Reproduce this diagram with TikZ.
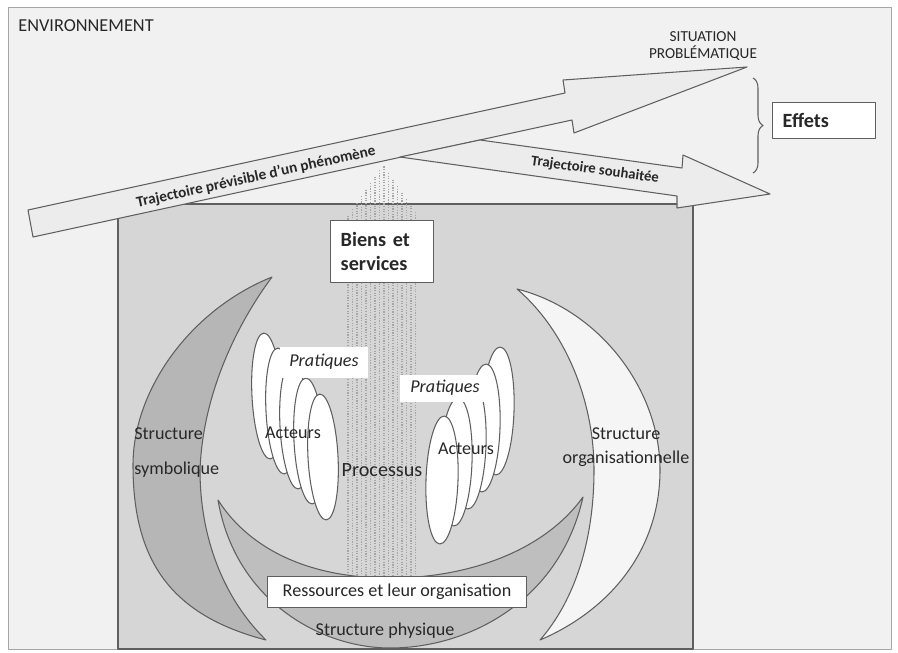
\documentclass[tikz,border=0pt]{standalone}
\usepackage{fontspec}
\setmainfont{Carlito}
\usetikzlibrary{decorations.pathreplacing}

\definecolor{fond}{RGB}{241,241,241}
\definecolor{grain}{RGB}{214,214,214}
\definecolor{trait}{RGB}{95,95,95}
\definecolor{encre}{RGB}{40,40,40}
\definecolor{fleche}{RGB}{236,236,236}
\definecolor{sombre}{RGB}{182,182,182}
\definecolor{moyen}{RGB}{190,190,190}
\definecolor{clair}{RGB}{245,245,245}

\begin{document}
\begin{tikzpicture}[x=0.02cm, y=-0.02cm, line join=round,
	contour/.style={draw=trait, line width=0.6pt},
	etiquette/.style={text=encre, inner sep=0pt, font=\fontsize{10.3}{12.4}\selectfont},
	gras/.style={text=encre, font=\fontsize{8.7}{10}\selectfont\bfseries},
	cadre/.style={draw=trait, fill=white, line width=0.8pt, text=encre},
	acteur/.style={contour, fill=white},
	flux/.style={draw=gray!70, dash pattern=on 0.7pt off 0.8pt, line width=0.8pt}]
	\useasboundingbox (0,0) rectangle (898,652);
		%environnement
			\draw [draw=gray!70, fill=fond] (8,7) rectangle (891,649);
			\node [etiquette, anchor=west, font=\fontsize{10.4}{12.4}\selectfont] (env) at (18,26) {ENVIRONNEMENT};
			\draw [contour, fill=grain] (118,204) rectangle (693,649);
		%structures
			% left side
			\draw [contour, fill=sombre] (272,277) .. controls (190,310) and (133,390) .. (133,465) .. controls (133,560) and (170,615) .. (266,640) .. controls (225,600) and (200,540) .. (200,470) .. controls (203,390) and (240,320) .. (272,277) -- cycle;
			% right side
			\draw [contour, fill=clair] (517,289) .. controls (600,310) and (660,390) .. (660,470) .. controls (660,550) and (610,610) .. (540,640) .. controls (575,600) and (594,540) .. (594,470) .. controls (594,400) and (565,330) .. (517,289) -- cycle;
			% bottom
			\draw [contour, fill=moyen] (218,500) .. controls (235,600) and (320,648) .. (390,648) .. controls (470,648) and (560,600) .. (583,497) .. controls (545,550) and (470,578) .. (390,578) .. controls (310,578) and (250,550) .. (218,500) -- cycle;
		%acteurs
			\foreach \cx/\cy in {267/396, 281/411, 295/426, 309/441, 323/457}
				\draw [acteur, rotate around={3:(\cx,\cy)}] (\cx,\cy) ellipse (15 and 63);
			\foreach \cx/\cy in {498/411, 484/428, 470/445, 456/462, 442/480}
				\draw [acteur, rotate around={-2:(\cx,\cy)}] (\cx,\cy) ellipse (16 and 64);
		%processus
			\foreach \x in {348,352.5,...,419} {
				\pgfmathsetmacro\haut{165+1.45*abs(\x-383)}
				\draw [flux] (\x,\haut) -- (\x,577);
			}
		%labels
			\node [etiquette, fill=white, minimum width=1.76cm, minimum height=0.62cm, font=\fontsize{10.3}{12.4}\selectfont\itshape] (pratA) at (324,362) {Pratiques};
			\node [etiquette, fill=white, minimum width=1.8cm, minimum height=0.54cm, font=\fontsize{10.3}{12.4}\selectfont\itshape] (pratB) at (445,388) {Pratiques};
			\node [etiquette] (actA) at (293,433) {Acteurs};
			\node [etiquette] (actB) at (466,449) {Acteurs};
			\node [etiquette, font=\fontsize{11.5}{13}\selectfont] (proc) at (382,470) {Processus};
			\node [etiquette, anchor=west, align=left, font=\fontsize{10.3}{20}\selectfont] (symb) at (134,453) {Structure\\symbolique};
			\node [etiquette, align=center, font=\fontsize{10.3}{13.6}\selectfont] (orga) at (626,447) {Structure\\organisationnelle};
			\node [etiquette] (phys) at (385,631) {Structure physique};
		%trajectoires
			\draw [contour, fill=fleche] (28,210) -- (565,93) -- (563,80) -- (747,67) -- (574,133) -- (572,120) -- (33,237) -- cycle;
			\draw [contour, fill=fleche] (480,140) -- (682,168) -- (683,155) -- (770,194) -- (677,208) -- (677,196) -- (400,157) -- cycle;
			\node [gras, rotate=12.3] (trajA) at (256,177) {Trajectoire prévisible d’un phénomène};
			\node [gras, rotate=-7.9, font=\fontsize{8.4}{10}\selectfont\bfseries] (trajB) at (595,170) {Trajectoire souhaitée};
			\node [etiquette, align=center, font=\fontsize{8.7}{9.6}\selectfont] (sit) at (703,46) {SITUATION\\PROBLÉMATIQUE};
		%effets
			\coordinate (accA) at (753,78);
			\coordinate (accB) at (753,173);
			\draw [trait, line width=0.6pt, decorate, decoration={brace, amplitude=5.7pt}] (accA) -- (accB);
			\node [cadre, anchor=north west, text width=1.66cm, inner xsep=0.2cm, minimum height=0.72cm, align=left, font=\fontsize{11.5}{13.6}\selectfont\bfseries] (effets) at (772,102) {Effets};
		%boites
			\node [cadre, anchor=north west, text width=1.66cm, inner xsep=0.2cm, minimum height=1.24cm, align=left, font=\fontsize{11.5}{13.6}\selectfont\bfseries] (biens) at (330,220) {Biens et\\services};
			\node [cadre, minimum width=5.18cm, minimum height=0.62cm, font=\fontsize{10.3}{12.4}\selectfont] (ress) at (397,592) {Ressources et leur organisation};
\end{tikzpicture}
\end{document}
